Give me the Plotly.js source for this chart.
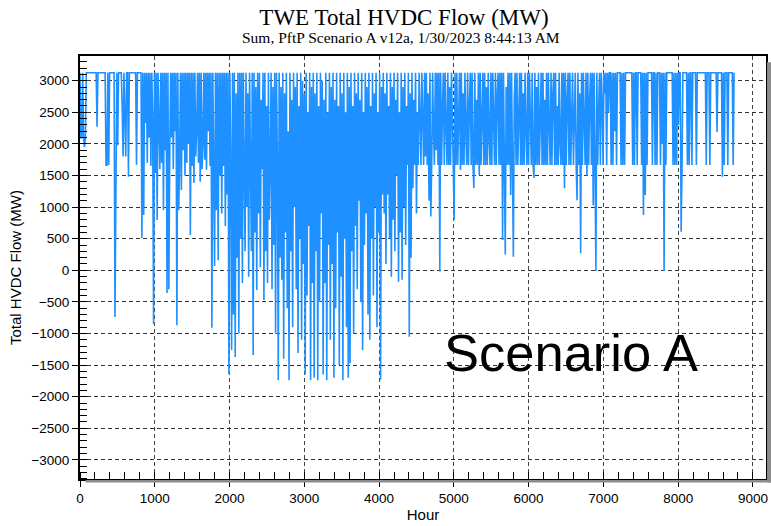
<!DOCTYPE html>
<html>
<head>
<meta charset="utf-8">
<script src="https://cdn.plot.ly/plotly-3.0.1.min.js"></script>
<style>
  html, body { margin: 0; padding: 0; background: #fff; }
  #chart { width: 771px; height: 526px; }
</style>
</head>
<body>
<div id="chart"></div>
<script>
// Hourly total HVDC flow (MW), sampled every 12 hours over the year.
const stepHours = 12;

// Hours 0 - 2159
const flowPart1 = [
  3125,2100,2100,3125,2100,1950,2100,3125,3125,3125,3125,3125,3125,3125,3125,3125,3125,3125,3125,2270,
  3125,3125,3125,3125,3125,3125,3125,3125,3125,1665,1665,3125,1665,3125,3125,3125,3125,3125,3125,-740,
  1980,3125,1980,3125,3125,3125,3125,2600,1800,3125,2600,1800,3125,3125,1480,3125,3125,3125,3125,3125,
  3125,3125,3125,1665,3125,3125,3125,3125,3125,510,3125,875,3125,2330,3125,1700,3125,2100,3125,1650,
  3125,2400,-850,3125,1540,3125,795,3125,2200,1600,3125,1700,3125,950,3125,1900,3125,-360,3125,-300,
  1800,3125,2100,3125,1600,3125,2200,3125,-870,3125,950,1700,3125,1270,3125,1900,3125,1500,3125,1700,
  3125,2000,3125,560,3125,1650,3125,1380,3125,1800,2200,3125,1700,3125,1400,3125,1600,2000,3125,1750,
  3125,1590,3125,2200,3125,1650,3125,-910,3125,1700,70,3125,950,3125,160,3125,1500,3125,900,3125,
  1650,3125,700,3125,1200,3125,-1640,3125,1700,-1260,3125,-700,3125,-1370,2800,200,3125,-1000,3125,500
];

// Hours 2160 - 4319
const flowPart2 = [
  3125,-200,3125,1600,300,3125,1000,2800,-100,3125,1500,300,3125,-1340,3125,600,2900,-310,3125,900,
  3125,50,2700,1600,3125,-470,3125,300,2600,-200,3125,800,1700,3125,-300,2900,400,3125,-1000,3125,
  1700,-1740,3125,200,2900,-150,3125,-1400,2800,600,3125,-600,2200,-1740,3125,300,2700,-900,3125,1000,
  2900,-300,3125,-1310,2600,500,3125,-1100,3000,100,2800,-1650,3125,-400,2500,700,3125,-1740,2900,-200,
  3125,-1700,2800,300,3125,-1740,2600,-500,3125,900,3000,-1650,2700,-200,3125,-1740,2500,400,3125,-1100,
  2900,100,3125,-1700,2700,-600,3125,600,2600,-1500,3125,-100,2800,-1740,3125,500,2500,-900,3125,-1700,
  2900,-1470,3125,300,2600,-1000,3125,700,2800,-300,3125,1100,2700,-500,3125,-1260,2500,400,3125,900,
  2900,-700,3125,-1100,2600,500,3125,-400,2800,1000,3125,-900,2500,600,3125,-1730,2900,1200,3125,900,
  2800,100,3125,1200,2600,500,3125,-100,2900,800,3125,300,2700,1500,3125,-180,2500,600,3125,-150
];

// Hours 4320 - 6479
const flowPart3 = [
  2900,1000,3125,400,2600,1665,3125,-1050,2800,200,3125,1300,2700,1665,3125,900,2500,1665,3125,2100,
  1665,3125,2400,1665,3125,1800,3125,1665,2800,1100,3125,850,1665,3125,2200,1665,3125,1900,3125,1665,
  3125,-20,3125,1665,2600,3125,1665,3125,2300,1665,3125,1665,2900,1665,3125,2000,1665,800,3125,1665,
  3125,1665,2500,3125,1590,3125,1665,2800,1665,3125,2200,1665,3125,1665,2600,3125,1665,3125,1665,1300,
  3125,1665,2700,1665,3125,1510,3125,1665,2400,3125,1665,3125,1665,2900,1665,3125,2100,1665,3125,1665,
  3125,2600,1665,3125,1665,2800,3125,1665,3125,1665,3125,480,3125,1665,250,2900,1665,3125,1665,3125,
  1190,3125,1665,215,2700,3125,1665,3125,1665,2500,3125,1665,3125,1665,2800,1665,3125,2200,1665,3125,
  1665,3125,2600,1665,3125,1665,1460,3125,1665,2900,1665,3125,1665,2400,3125,1665,3125,1665,2700,1665,
  3125,1665,3125,2300,1665,3125,1665,2800,3125,1665,3125,1665,2600,1665,3125,2000,1665,3125,1665,3125
];

// Hours 6480 - 8748
const flowPart4 = [
  1300,3125,1665,2700,3125,1665,3125,1665,2400,3125,1665,2500,3125,1665,1110,3125,1665,2800,270,3125,
  1665,3125,2600,1665,3125,1500,3125,1665,2700,3125,1665,3125,1030,3125,1665,-10,3125,1665,2500,3125,
  1665,3125,2700,1665,3125,2800,3125,1665,3125,2500,3125,3125,1665,3125,1665,3125,2200,3125,1665,3125,
  3125,3125,3125,1665,3125,1665,3125,1665,3125,3125,3125,3125,3125,3125,3125,3125,1665,3125,1665,3125,
  3125,1665,3125,3125,3125,3125,1665,3125,875,3125,1190,3125,1665,3125,3125,3125,3125,3125,1665,3125,
  3125,1665,3125,1665,3125,3125,3125,1665,3125,2000,3125,-10,3125,1665,3125,3125,3125,3125,3125,3125,
  3125,1665,3125,1665,3125,1665,3125,2300,3125,3125,610,1665,3125,3125,3125,3125,3125,1665,3125,1665,
  3125,3125,1665,3125,3125,3125,3125,1665,3125,3125,3125,3125,3125,3125,3125,3125,3125,3125,1665,3125,
  3125,3125,1665,3125,3125,3125,3125,3125,3125,3125,2190,3125,3125,3125,3125,3125,1480,3125,1665,3125,
  3125,3125,1665,3125,3125,3125,3125,3125,1665,3125
];

const flow = flowPart1.concat(flowPart2, flowPart3, flowPart4);

const titleText = 'TWE Total HVDC Flow (MW)';
const subtitleText = 'Sum, PftP Scenario A v12a, 1/30/2023 8:44:13 AM';
const scenarioLabel = 'Scenario A';
const xTitle = 'Hour';
const yTitle = 'Total HVDC Flow (MW)';

const sans = 'Liberation Sans, Arial, sans-serif';
const serif = 'Liberation Serif, Times New Roman, serif';

const trace = {
  type: 'scatter',
  mode: 'lines',
  x0: 0,
  dx: stepHours,
  y: flow,
  line: { color: '#1E90FF', width: 1.6 },
  hoverinfo: 'x+y'
};

const layout = {
  width: 771,
  height: 526,
  margin: { l: 80, r: 5, t: 56, b: 47 },
  paper_bgcolor: '#ffffff',
  plot_bgcolor: '#ffffff',
  showlegend: false,
  title: {
    text: titleText,
    font: { family: serif, size: 23, color: '#000' },
    x: 404 / 771, xanchor: 'center',
    xref: 'container', yref: 'container',
    y: 1 - 17 / 526, yanchor: 'middle'
  },
  xaxis: {
    range: [0, 9175],
    tickmode: 'linear', tick0: 0, dtick: 1000,
    ticks: 'outside', ticklen: 6, tickwidth: 1, tickcolor: '#000',
    minor: { ticks: 'inside', ticklen: 7, dtick: 200, tickcolor: '#000', tickwidth: 1, showgrid: false },
    showline: true, linecolor: '#000', linewidth: 2, mirror: true,
    showgrid: true, gridcolor: '#444', gridwidth: 1, griddash: '4px,3px',
    zeroline: false,
    tickfont: { family: sans, size: 13.5, color: '#000' },
    title: { text: xTitle, font: { family: sans, size: 15, color: '#000' }, standoff: 4 }
  },
  yaxis: {
    range: [-3302, 3391],
    tickmode: 'linear', tick0: 0, dtick: 500,
    ticks: 'outside', ticklen: 6, tickwidth: 1, tickcolor: '#000',
    minor: { ticks: 'inside', ticklen: 7, dtick: 100, tickcolor: '#000', tickwidth: 1, showgrid: false },
    showline: true, linecolor: '#000', linewidth: 2, mirror: true,
    showgrid: true, gridcolor: '#333', gridwidth: 1, griddash: '4px,3px',
    zeroline: false,
    tickfont: { family: sans, size: 13.5, color: '#000' },
    title: { text: yTitle, font: { family: sans, size: 15, color: '#000' }, standoff: 6 }
  },
  shapes: [
    // drop shadow along the right and bottom of the frame
    { type: 'rect', xref: 'paper', yref: 'paper', layer: 'above',
      x0: 1.0015, x1: 1.008, y0: -0.008, y1: 0.985,
      fillcolor: '#8c8c8c', line: { width: 0 } },
    { type: 'rect', xref: 'paper', yref: 'paper', layer: 'above',
      x0: 0.008, x1: 1.008, y0: -0.008, y1: -0.0025,
      fillcolor: '#8c8c8c', line: { width: 0 } }
  ],
  annotations: [
    { text: subtitleText, xref: 'paper', yref: 'paper',
      x: (401 - 80) / 686, xanchor: 'center',
      y: (479 - 38) / 423, yanchor: 'middle',
      showarrow: false, font: { family: serif, size: 15.5, color: '#000' } },
    { text: scenarioLabel, xref: 'paper', yref: 'paper',
      x: (442 - 80) / 686, xanchor: 'left',
      y: (479 - 352) / 423, yanchor: 'middle',
      showarrow: false, font: { family: sans, size: 52.5, color: '#000' } }
  ]
};

Plotly.newPlot('chart', [trace], layout, { displayModeBar: false, staticPlot: true });
</script>
</body>
</html>
